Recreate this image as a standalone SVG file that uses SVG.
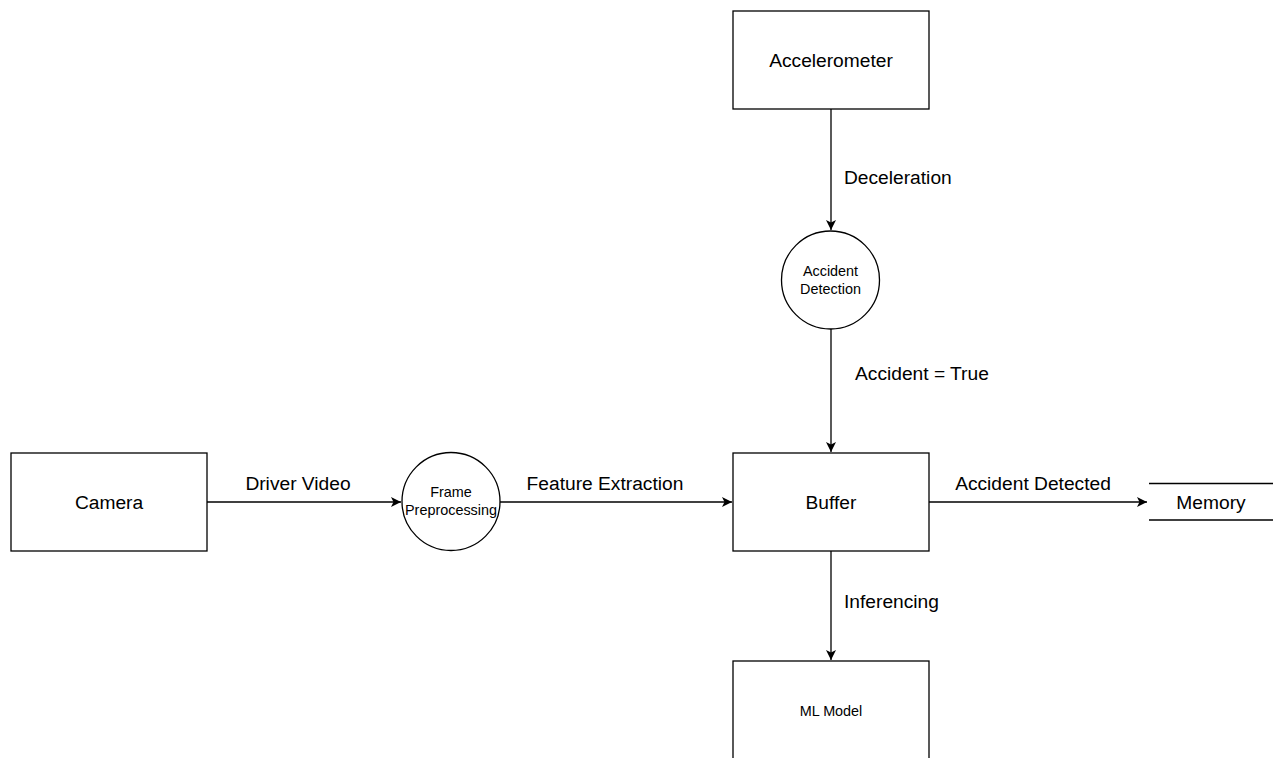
<svg xmlns="http://www.w3.org/2000/svg" width="1273" height="758" viewBox="0 0 1273 758">
  <style>
    .box { fill: #ffffff; stroke: #000000; stroke-width: 1.3; }
    .edge { fill: none; stroke: #000000; stroke-width: 1.3; }
    .big { font-family: "Liberation Sans", Arial, sans-serif; font-size: 19.2px; fill: #000000; }
    .small { font-family: "Liberation Sans", Arial, sans-serif; font-size: 14.4px; fill: #000000; }
    .mid { text-anchor: middle; }
  </style>
  <defs>
    <marker id="arrow" markerWidth="12" markerHeight="10" refX="10" refY="5" orient="auto" markerUnits="userSpaceOnUse">
      <path d="M0,0 L10,5 L0,10 L2.5,5 Z" fill="#000000"/>
    </marker>
  </defs>
  <rect width="1273" height="758" fill="#ffffff"/>

  <!-- connectors -->
  <g id="connectors">
    <line class="edge" x1="207" y1="502" x2="401" y2="502" marker-end="url(#arrow)"/>
    <line class="edge" x1="500" y1="502" x2="732" y2="502" marker-end="url(#arrow)"/>
    <line class="edge" x1="831" y1="109" x2="831" y2="230" marker-end="url(#arrow)"/>
    <line class="edge" x1="831" y1="329" x2="831" y2="452" marker-end="url(#arrow)"/>
    <line class="edge" x1="929" y1="502" x2="1147" y2="502" marker-end="url(#arrow)"/>
    <line class="edge" x1="831" y1="551" x2="831" y2="660" marker-end="url(#arrow)"/>
    <text class="big mid" x="298" y="490">Driver Video</text>
    <text class="big mid" x="605" y="490">Feature Extraction</text>
    <text class="big" x="844" y="184">Deceleration</text>
    <text class="big" x="855" y="380">Accident = True</text>
    <text class="big mid" x="1033" y="490">Accident Detected</text>
    <text class="big" x="844" y="608">Inferencing</text>
  </g>

  <!-- nodes -->
  <g id="camera">
    <rect class="box" x="11" y="453" width="196" height="98"/>
    <text class="big mid" x="109" y="509">Camera</text>
  </g>
  <g id="frame-preprocessing">
    <circle class="box" cx="451" cy="501.5" r="49"/>
    <text class="small mid" x="451" y="497">Frame</text>
    <text class="small mid" x="451" y="515">Preprocessing</text>
  </g>
  <g id="accelerometer">
    <rect class="box" x="733" y="11" width="196" height="98"/>
    <text class="big mid" x="831" y="67">Accelerometer</text>
  </g>
  <g id="accident-detection">
    <circle class="box" cx="830.5" cy="280" r="49"/>
    <text class="small mid" x="830.5" y="276">Accident</text>
    <text class="small mid" x="830.5" y="294">Detection</text>
  </g>
  <g id="buffer">
    <rect class="box" x="733" y="453" width="196" height="98"/>
    <text class="big mid" x="831" y="509">Buffer</text>
  </g>
  <g id="memory">
    <line class="edge" x1="1149" y1="483.5" x2="1273" y2="483.5"/>
    <line class="edge" x1="1149" y1="520" x2="1273" y2="520"/>
    <text class="big mid" x="1211" y="509">Memory</text>
  </g>
  <g id="ml-model">
    <rect class="box" x="733" y="661" width="196" height="120"/>
    <text class="small mid" x="831" y="716">ML Model</text>
  </g>
</svg>
